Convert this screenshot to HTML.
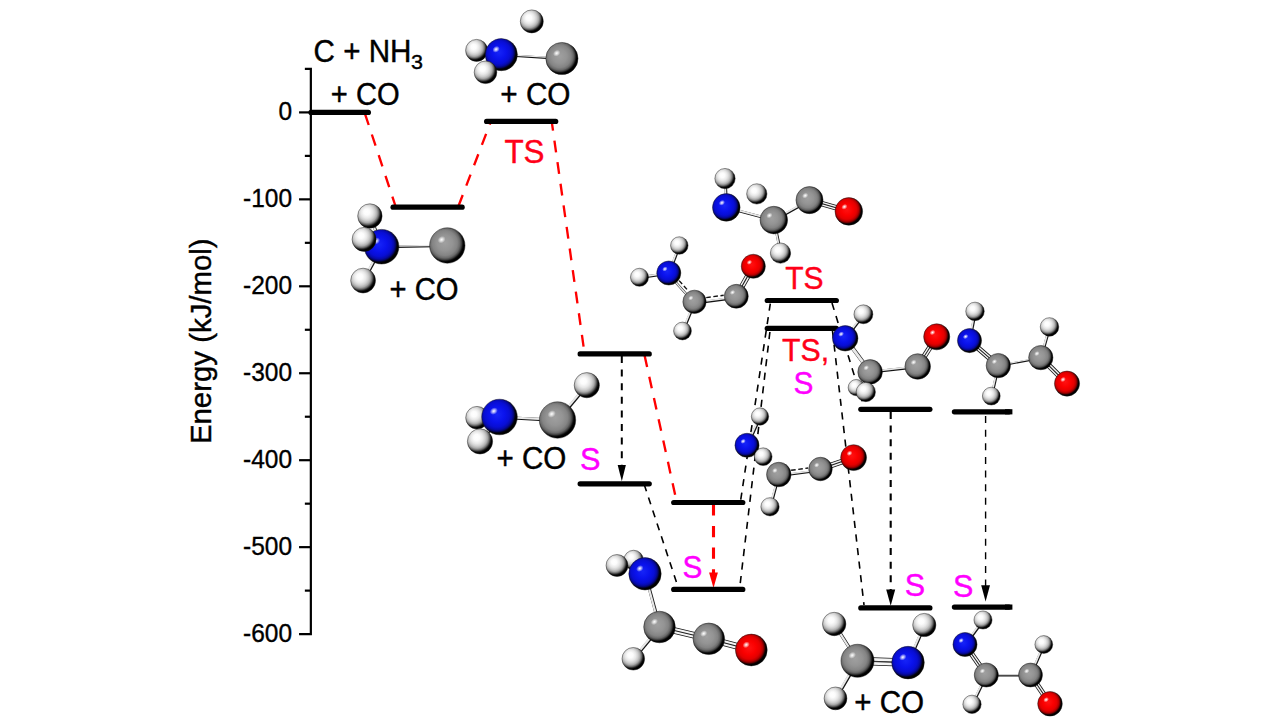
<!DOCTYPE html>
<html><head><meta charset="utf-8"><title>Energy diagram</title>
<style>html,body{margin:0;padding:0;background:#fff;overflow:hidden}svg{display:block}</style></head>
<body>
<svg width="1281" height="719" viewBox="0 0 1281 719">
<defs>
<radialGradient id="gH" cx="0.40" cy="0.38" r="0.60" fx="0.36" fy="0.33">
<stop offset="0" stop-color="#ffffff"/><stop offset="0.2" stop-color="#fcfcfc"/><stop offset="0.4" stop-color="#e8e8e8"/><stop offset="0.55" stop-color="#cecece"/><stop offset="0.68" stop-color="#aaaaaa"/><stop offset="0.79" stop-color="#6c6c6c"/><stop offset="0.88" stop-color="#222"/><stop offset="0.95" stop-color="#000"/></radialGradient>
<radialGradient id="gC" cx="0.43" cy="0.43" r="0.55">
<stop offset="0" stop-color="#a0a0a0"/><stop offset="0.4" stop-color="#949494"/><stop offset="0.64" stop-color="#848484"/><stop offset="0.77" stop-color="#6a6a6a"/><stop offset="0.86" stop-color="#404040"/><stop offset="0.92" stop-color="#141414"/><stop offset="0.97" stop-color="#000"/></radialGradient>
<radialGradient id="gN" cx="0.43" cy="0.43" r="0.55">
<stop offset="0" stop-color="#1624f8"/><stop offset="0.4" stop-color="#0a12ec"/><stop offset="0.64" stop-color="#080ed4"/><stop offset="0.77" stop-color="#060aaa"/><stop offset="0.86" stop-color="#04066a"/><stop offset="0.92" stop-color="#010220"/><stop offset="0.97" stop-color="#000"/></radialGradient>
<radialGradient id="gO" cx="0.43" cy="0.43" r="0.55">
<stop offset="0" stop-color="#ff1212"/><stop offset="0.4" stop-color="#fa0000"/><stop offset="0.64" stop-color="#e40000"/><stop offset="0.77" stop-color="#b80000"/><stop offset="0.86" stop-color="#720000"/><stop offset="0.92" stop-color="#240000"/><stop offset="0.97" stop-color="#000"/></radialGradient>
<radialGradient id="hl" cx="0.5" cy="0.5" r="0.5">
<stop offset="0" stop-color="#fff" stop-opacity="1"/><stop offset="0.4" stop-color="#fff" stop-opacity="0.65"/><stop offset="1" stop-color="#fff" stop-opacity="0"/></radialGradient>
</defs>
<rect width="1281" height="719" fill="#fff"/>
<g stroke="#000" stroke-width="2.2" fill="none" stroke-linecap="butt">
<path d="M304.85 68.85H310.85V634.10H299.05"/>
<path d="M299.05 112.40H310.85"/>
<path d="M299.05 199.35H310.85"/>
<path d="M299.05 286.30H310.85"/>
<path d="M299.05 373.25H310.85"/>
<path d="M299.05 460.20H310.85"/>
<path d="M299.05 547.15H310.85"/>
<path d="M304.85 155.88H310.85"/>
<path d="M304.85 242.83H310.85"/>
<path d="M304.85 329.77H310.85"/>
<path d="M304.85 416.73H310.85"/>
<path d="M304.85 503.68H310.85"/>
<path d="M304.85 590.62H310.85"/>
</g>
<text transform="translate(278.46 120.00) scale(1 1.045)" font-family="Liberation Sans, sans-serif" font-size="24.5" fill="#000" stroke="#000" stroke-width="0.35">0</text>
<text transform="translate(243.05 206.95) scale(1 1.045)" font-family="Liberation Sans, sans-serif" font-size="24.5" fill="#000" stroke="#000" stroke-width="0.35">-100</text>
<text transform="translate(243.05 293.90) scale(1 1.045)" font-family="Liberation Sans, sans-serif" font-size="24.5" fill="#000" stroke="#000" stroke-width="0.35">-200</text>
<text transform="translate(243.05 380.85) scale(1 1.045)" font-family="Liberation Sans, sans-serif" font-size="24.5" fill="#000" stroke="#000" stroke-width="0.35">-300</text>
<text transform="translate(243.05 467.80) scale(1 1.045)" font-family="Liberation Sans, sans-serif" font-size="24.5" fill="#000" stroke="#000" stroke-width="0.35">-400</text>
<text transform="translate(243.05 554.75) scale(1 1.045)" font-family="Liberation Sans, sans-serif" font-size="24.5" fill="#000" stroke="#000" stroke-width="0.35">-500</text>
<text transform="translate(243.05 641.70) scale(1 1.045)" font-family="Liberation Sans, sans-serif" font-size="24.5" fill="#000" stroke="#000" stroke-width="0.35">-600</text>
<text transform="translate(211.25 444.1) rotate(-90) scale(1 1.03)" font-family="Liberation Sans, sans-serif" font-size="29.4" fill="#000" stroke="#000" stroke-width="0.4">Energy (kJ/mol)</text>
<path d="M365 113.8L395.3 205.5" stroke="#ff0000" stroke-width="2.35" stroke-dasharray="11.8 10" stroke-dashoffset="0" fill="none"/>
<path d="M458.5 206L490.5 122.5" stroke="#ff0000" stroke-width="2.35" stroke-dasharray="11.8 10" stroke-dashoffset="0" fill="none"/>
<path d="M551.7 121.4L584.2 351" stroke="#ff0000" stroke-width="2.35" stroke-dasharray="11.8 10" stroke-dashoffset="2.4" fill="none"/>
<path d="M644.6 355.4L676.3 500" stroke="#ff0000" stroke-width="2.35" stroke-dasharray="11.8 10" stroke-dashoffset="0" fill="none"/>
<path d="M713.5 504.4L713.5 573" stroke="#ff0000" stroke-width="3.1" stroke-dasharray="11.2 10.4" stroke-dashoffset="0" fill="none"/>
<path d="M709.1 572.4L717.9 572.4L713.5 588Z" fill="#ff0000"/>
<path d="M644.2 484.5L676.4 582" stroke="#000" stroke-width="1.6" stroke-dasharray="7.2 6.45" stroke-dashoffset="0" fill="none"/>
<path d="M770.3 303.6L740.7 500" stroke="#000" stroke-width="1.6" stroke-dasharray="7.2 6.45" stroke-dashoffset="0" fill="none"/>
<path d="M769.9 332L739.8 587" stroke="#000" stroke-width="1.6" stroke-dasharray="7.2 6.45" stroke-dashoffset="0" fill="none"/>
<path d="M832 303L864 407" stroke="#000" stroke-width="1.6" stroke-dasharray="7.2 6.45" stroke-dashoffset="0" fill="none"/>
<path d="M832.5 331L864 605" stroke="#000" stroke-width="1.6" stroke-dasharray="7.2 6.45" stroke-dashoffset="0" fill="none"/>
<path d="M621.8 355.9L621.8 466.3" stroke="#000" stroke-width="2.0" stroke-dasharray="7 6.62" stroke-dashoffset="0" fill="none"/>
<path d="M617.6999999999999 464.90000000000003L625.9 464.90000000000003L621.8 481.3Z" fill="#000"/>
<path d="M890.7 411.9L890.7 590.8" stroke="#000" stroke-width="2.1" stroke-dasharray="7 6.62" stroke-dashoffset="0" fill="none"/>
<path d="M886.2 589.4L895.2 589.4L890.7 605.8Z" fill="#000"/>
<path d="M985.6 416.1L985.6 586.6" stroke="#000" stroke-width="1.4" stroke-dasharray="7 6.62" stroke-dashoffset="0" fill="none"/>
<path d="M981.2 585.2L990.0 585.2L985.6 601.6Z" fill="#000"/>
<path d="M311 112.4H368.4" stroke="#000" stroke-width="5.2" stroke-linecap="round"/>
<path d="M393.05 207.2H462.15" stroke="#000" stroke-width="5.2" stroke-linecap="round" fill="none"/>
<path d="M486.60 121.4H555.70" stroke="#000" stroke-width="5.2" stroke-linecap="round" fill="none"/>
<path d="M580.15 353.9H649.25" stroke="#000" stroke-width="5.2" stroke-linecap="round" fill="none"/>
<path d="M580.15 483.8H649.25" stroke="#000" stroke-width="5.2" stroke-linecap="round" fill="none"/>
<path d="M673.70 502.5H742.80" stroke="#000" stroke-width="5.2" stroke-linecap="round" fill="none"/>
<path d="M673.70 589.45H742.80" stroke="#000" stroke-width="5.2" stroke-linecap="round" fill="none"/>
<path d="M767.25 300.5H836.35" stroke="#000" stroke-width="5.2" stroke-linecap="round" fill="none"/>
<path d="M767.25 328.4H836.35" stroke="#000" stroke-width="5.2" stroke-linecap="round" fill="none"/>
<path d="M860.80 409.3H929.90" stroke="#000" stroke-width="5.2" stroke-linecap="round" fill="none"/>
<path d="M860.80 607.9H929.90" stroke="#000" stroke-width="5.2" stroke-linecap="round" fill="none"/>
<path d="M954.4 411.8H1009" stroke="#000" stroke-width="5.2" stroke-linecap="round"/><rect x="1005" y="409.2" width="7.4" height="5.2" fill="#000"/>
<path d="M954.4 607.1H1009" stroke="#000" stroke-width="5.2" stroke-linecap="round"/><rect x="1005" y="604.5" width="7.4" height="5.2" fill="#000"/>
<g>
<path d="M382.0 247.0L370.2 216.3" stroke="#141414" stroke-width="3.10" fill="none"/>
<path d="M381.4 246.4L369.7 215.8" stroke="#e8e8e8" stroke-width="2.20" fill="none"/>
<path d="M382.0 247.0L363.5 281.0" stroke="#141414" stroke-width="3.10" fill="none"/>
<path d="M381.4 246.4L362.9 280.4" stroke="#e8e8e8" stroke-width="2.20" fill="none"/>
<path d="M382.0 247.0L447.7 245.8" stroke="#141414" stroke-width="2.30" fill="none"/>
<path d="M381.4 246.4L447.1 245.2" stroke="#e8e8e8" stroke-width="1.40" fill="none"/>
<circle cx="369.9" cy="216.0" r="12.2" fill="url(#gH)" stroke="#151515" stroke-opacity="0.75" stroke-width="0.6"/>
<circle cx="381.6" cy="246.7" r="17.3" fill="url(#gN)" stroke="#151515" stroke-opacity="0.75" stroke-width="0.6"/>
<ellipse cx="376.1" cy="241.0" rx="4.2" ry="3.3" fill="url(#hl)" transform="rotate(-35 376.1 241.0)"/>
<circle cx="364.1" cy="239.4" r="12.0" fill="url(#gH)" stroke="#151515" stroke-opacity="0.75" stroke-width="0.6"/>
<circle cx="363.1" cy="280.6" r="12.399999999999999" fill="url(#gH)" stroke="#151515" stroke-opacity="0.75" stroke-width="0.6"/>
<circle cx="447.3" cy="245.5" r="17.7" fill="url(#gC)" stroke="#151515" stroke-opacity="0.75" stroke-width="0.6"/>
<ellipse cx="441.6" cy="239.7" rx="4.2" ry="3.4" fill="url(#hl)" transform="rotate(-35 441.6 239.7)"/>
</g>
<g>
<path d="M501.7 55.0L477.0 50.8" stroke="#141414" stroke-width="3.10" fill="none"/>
<path d="M501.1 54.4L476.4 50.1" stroke="#e8e8e8" stroke-width="2.20" fill="none"/>
<path d="M501.7 55.0L485.9 72.6" stroke="#141414" stroke-width="3.10" fill="none"/>
<path d="M501.1 54.4L485.3 72.0" stroke="#e8e8e8" stroke-width="2.20" fill="none"/>
<path d="M501.7 55.0L562.2 58.9" stroke="#141414" stroke-width="2.20" fill="none"/>
<path d="M501.1 54.4L561.7 58.2" stroke="#e8e8e8" stroke-width="1.30" fill="none"/>
<circle cx="531.8" cy="21.4" r="11.5" fill="url(#gH)" stroke="#151515" stroke-opacity="0.75" stroke-width="0.6"/>
<circle cx="476.6" cy="50.4" r="11.0" fill="url(#gH)" stroke="#151515" stroke-opacity="0.75" stroke-width="0.6"/>
<circle cx="501.3" cy="54.6" r="16.1" fill="url(#gN)" stroke="#151515" stroke-opacity="0.75" stroke-width="0.6"/>
<ellipse cx="496.1" cy="49.3" rx="3.9" ry="3.1" fill="url(#hl)" transform="rotate(-35 496.1 49.3)"/>
<circle cx="485.5" cy="72.3" r="11.299999999999999" fill="url(#gH)" stroke="#151515" stroke-opacity="0.75" stroke-width="0.6"/>
<circle cx="561.9" cy="58.5" r="16.1" fill="url(#gC)" stroke="#151515" stroke-opacity="0.75" stroke-width="0.6"/>
<ellipse cx="556.7" cy="53.2" rx="3.9" ry="3.1" fill="url(#hl)" transform="rotate(-35 556.7 53.2)"/>
</g>
<g>
<path d="M557.9 420.4L587.1 385.6" stroke="#141414" stroke-width="3.10" fill="none"/>
<path d="M557.3 419.8L586.6 384.9" stroke="#e8e8e8" stroke-width="2.20" fill="none"/>
<path d="M499.9 417.4L557.9 420.4" stroke="#141414" stroke-width="3.10" fill="none"/>
<path d="M499.3 416.8L557.3 419.8" stroke="#e8e8e8" stroke-width="2.20" fill="none"/>
<path d="M499.9 417.4L480.4 441.8" stroke="#141414" stroke-width="3.10" fill="none"/>
<path d="M499.3 416.8L479.8 441.1" stroke="#e8e8e8" stroke-width="2.20" fill="none"/>
<circle cx="477" cy="417.7" r="11.299999999999999" fill="url(#gH)" stroke="#151515" stroke-opacity="0.75" stroke-width="0.6"/>
<circle cx="499.5" cy="417" r="17.8" fill="url(#gN)" stroke="#151515" stroke-opacity="0.75" stroke-width="0.6"/>
<ellipse cx="493.8" cy="411.1" rx="4.3" ry="3.4" fill="url(#hl)" transform="rotate(-35 493.8 411.1)"/>
<circle cx="480" cy="441.4" r="12.6" fill="url(#gH)" stroke="#151515" stroke-opacity="0.75" stroke-width="0.6"/>
<circle cx="586.8" cy="385.2" r="12.6" fill="url(#gH)" stroke="#151515" stroke-opacity="0.75" stroke-width="0.6"/>
<circle cx="557.5" cy="420" r="18.2" fill="url(#gC)" stroke="#151515" stroke-opacity="0.75" stroke-width="0.6"/>
<ellipse cx="551.7" cy="414.0" rx="4.4" ry="3.5" fill="url(#hl)" transform="rotate(-35 551.7 414.0)"/>
</g>
<g>
<path d="M645.4 574.1L659.9 627.4" stroke="#141414" stroke-width="3.10" fill="none"/>
<path d="M644.8 573.5L659.3 626.8" stroke="#e8e8e8" stroke-width="2.20" fill="none"/>
<path d="M659.8 625.5L709.1 637.3" stroke="#141414" stroke-width="3.60" fill="none"/>
<path d="M659.2 628.5L708.5 640.3" stroke="#141414" stroke-width="3.60" fill="none"/>
<path d="M659.8 625.5L709.1 637.3" stroke="#f4f4f4" stroke-width="2.00" fill="none"/>
<path d="M659.2 628.5L708.5 640.3" stroke="#f4f4f4" stroke-width="2.00" fill="none"/>
<path d="M709.2 637.3L751.7 648.5" stroke="#141414" stroke-width="3.60" fill="none"/>
<path d="M708.4 640.3L750.9 651.5" stroke="#141414" stroke-width="3.60" fill="none"/>
<path d="M709.2 637.3L751.7 648.5" stroke="#f4f4f4" stroke-width="2.00" fill="none"/>
<path d="M708.4 640.3L750.9 651.5" stroke="#f4f4f4" stroke-width="2.00" fill="none"/>
<path d="M659.9 627.4L633.6 659.1" stroke="#141414" stroke-width="3.10" fill="none"/>
<path d="M659.3 626.8L633.1 658.5" stroke="#e8e8e8" stroke-width="2.20" fill="none"/>
<circle cx="633.6" cy="560" r="9.75" fill="url(#gH)" stroke="#151515" stroke-opacity="0.75" stroke-width="0.6"/>
<circle cx="617" cy="565.5" r="10.95" fill="url(#gH)" stroke="#151515" stroke-opacity="0.75" stroke-width="0.6"/>
<circle cx="645" cy="573.8" r="16.2" fill="url(#gN)" stroke="#151515" stroke-opacity="0.75" stroke-width="0.6"/>
<ellipse cx="639.8" cy="568.5" rx="3.9" ry="3.1" fill="url(#hl)" transform="rotate(-35 639.8 568.5)"/>
<circle cx="633.3" cy="658.8" r="11.299999999999999" fill="url(#gH)" stroke="#151515" stroke-opacity="0.75" stroke-width="0.6"/>
<circle cx="659.5" cy="627" r="15.8" fill="url(#gC)" stroke="#151515" stroke-opacity="0.75" stroke-width="0.6"/>
<ellipse cx="654.4" cy="621.8" rx="3.8" ry="3.0" fill="url(#hl)" transform="rotate(-35 654.4 621.8)"/>
<circle cx="708.8" cy="638.8" r="15.8" fill="url(#gC)" stroke="#151515" stroke-opacity="0.75" stroke-width="0.6"/>
<ellipse cx="703.7" cy="633.6" rx="3.8" ry="3.0" fill="url(#hl)" transform="rotate(-35 703.7 633.6)"/>
<circle cx="751.3" cy="650" r="15.9" fill="url(#gO)" stroke="#151515" stroke-opacity="0.75" stroke-width="0.6"/>
<ellipse cx="746.2" cy="644.8" rx="3.8" ry="3.1" fill="url(#hl)" transform="rotate(-35 746.2 644.8)"/>
</g>
<g>
<path d="M747.4 445.7L760.4 416.9" stroke="#141414" stroke-width="2.70" fill="none"/>
<path d="M746.8 445.1L759.8 416.2" stroke="#e8e8e8" stroke-width="1.80" fill="none"/>
<path d="M779.2 475.9L820.9 470.4" stroke="#141414" stroke-width="2.40" fill="none"/>
<path d="M778.7 475.3L820.4 469.8" stroke="#e8e8e8" stroke-width="1.50" fill="none"/>
<path d="M791.1 470.3L808.1 468.0" stroke="#111" stroke-width="1.4" stroke-dasharray="4.6 2.6" fill="none"/>
<path d="M820.1 467.8L853.2 456.4" stroke="#141414" stroke-width="3.05" fill="none"/>
<path d="M820.9 470.2L854.0 458.8" stroke="#141414" stroke-width="3.05" fill="none"/>
<path d="M820.1 467.8L853.2 456.4" stroke="#f4f4f4" stroke-width="1.45" fill="none"/>
<path d="M820.9 470.2L854.0 458.8" stroke="#f4f4f4" stroke-width="1.45" fill="none"/>
<path d="M779.1 474.9L770.4 507.2" stroke="#141414" stroke-width="2.70" fill="none"/>
<path d="M778.6 474.2L769.8 506.6" stroke="#e8e8e8" stroke-width="1.80" fill="none"/>
<circle cx="760" cy="416.5" r="8.65" fill="url(#gH)" stroke="#151515" stroke-opacity="0.75" stroke-width="0.6"/>
<circle cx="747" cy="445.3" r="12.05" fill="url(#gN)" stroke="#151515" stroke-opacity="0.75" stroke-width="0.6"/>
<ellipse cx="743.1" cy="441.3" rx="2.9" ry="2.3" fill="url(#hl)" transform="rotate(-35 743.1 441.3)"/>
<circle cx="763.2" cy="456.7" r="8.85" fill="url(#gH)" stroke="#151515" stroke-opacity="0.75" stroke-width="0.6"/>
<circle cx="770" cy="506.8" r="9.15" fill="url(#gH)" stroke="#151515" stroke-opacity="0.75" stroke-width="0.6"/>
<circle cx="778.8" cy="474.5" r="12.25" fill="url(#gC)" stroke="#151515" stroke-opacity="0.75" stroke-width="0.6"/>
<ellipse cx="774.9" cy="470.5" rx="2.9" ry="2.4" fill="url(#hl)" transform="rotate(-35 774.9 470.5)"/>
<circle cx="820.5" cy="469" r="11.75" fill="url(#gC)" stroke="#151515" stroke-opacity="0.75" stroke-width="0.6"/>
<ellipse cx="816.7" cy="465.1" rx="2.8" ry="2.3" fill="url(#hl)" transform="rotate(-35 816.7 465.1)"/>
<circle cx="853.6" cy="457.6" r="12.950000000000001" fill="url(#gO)" stroke="#151515" stroke-opacity="0.75" stroke-width="0.6"/>
<ellipse cx="849.5" cy="453.3" rx="3.1" ry="2.5" fill="url(#hl)" transform="rotate(-35 849.5 453.3)"/>
</g>
<g>
<path d="M845.6 338.7L863.8 314.7" stroke="#141414" stroke-width="2.70" fill="none"/>
<path d="M845.0 338.1L863.2 314.1" stroke="#e8e8e8" stroke-width="1.80" fill="none"/>
<path d="M845.6 338.7L870.5 372.2" stroke="#141414" stroke-width="3.90" fill="none"/>
<path d="M845.0 338.1L869.9 371.6" stroke="#e8e8e8" stroke-width="3.00" fill="none"/>
<path d="M870.5 372.2L918.1 366.9" stroke="#141414" stroke-width="2.70" fill="none"/>
<path d="M869.9 371.6L917.5 366.2" stroke="#e8e8e8" stroke-width="1.80" fill="none"/>
<path d="M916.7 365.8L935.7 336.1" stroke="#141414" stroke-width="3.05" fill="none"/>
<path d="M918.7 367.2L937.7 337.5" stroke="#141414" stroke-width="3.05" fill="none"/>
<path d="M916.7 365.8L935.7 336.1" stroke="#f4f4f4" stroke-width="1.45" fill="none"/>
<path d="M918.7 367.2L937.7 337.5" stroke="#f4f4f4" stroke-width="1.45" fill="none"/>
<path d="M870.5 372.2L866.1 392.4" stroke="#141414" stroke-width="2.70" fill="none"/>
<path d="M869.9 371.6L865.6 391.8" stroke="#e8e8e8" stroke-width="1.80" fill="none"/>
<circle cx="863.4" cy="314.3" r="9.450000000000001" fill="url(#gH)" stroke="#151515" stroke-opacity="0.75" stroke-width="0.6"/>
<circle cx="856.3" cy="387.6" r="8.15" fill="url(#gH)" stroke="#151515" stroke-opacity="0.75" stroke-width="0.6"/>
<circle cx="845.2" cy="338.3" r="12.75" fill="url(#gN)" stroke="#151515" stroke-opacity="0.75" stroke-width="0.6"/>
<ellipse cx="841.1" cy="334.1" rx="3.1" ry="2.4" fill="url(#hl)" transform="rotate(-35 841.1 334.1)"/>
<circle cx="870.1" cy="371.9" r="12.3" fill="url(#gC)" stroke="#151515" stroke-opacity="0.75" stroke-width="0.6"/>
<ellipse cx="866.2" cy="367.8" rx="3.0" ry="2.4" fill="url(#hl)" transform="rotate(-35 866.2 367.8)"/>
<circle cx="865.8" cy="392" r="9.65" fill="url(#gH)" stroke="#151515" stroke-opacity="0.75" stroke-width="0.6"/>
<circle cx="917.7" cy="366.5" r="12.8" fill="url(#gC)" stroke="#151515" stroke-opacity="0.75" stroke-width="0.6"/>
<ellipse cx="913.6" cy="362.3" rx="3.1" ry="2.5" fill="url(#hl)" transform="rotate(-35 913.6 362.3)"/>
<circle cx="936.7" cy="336.8" r="13.05" fill="url(#gO)" stroke="#151515" stroke-opacity="0.75" stroke-width="0.6"/>
<ellipse cx="932.5" cy="332.5" rx="3.1" ry="2.5" fill="url(#hl)" transform="rotate(-35 932.5 332.5)"/>
</g>
<g>
<path d="M969.9 341.0L975.4 311.8" stroke="#141414" stroke-width="2.70" fill="none"/>
<path d="M969.3 340.4L974.8 311.1" stroke="#e8e8e8" stroke-width="1.80" fill="none"/>
<path d="M970.3 339.7L999.1 364.7" stroke="#141414" stroke-width="3.05" fill="none"/>
<path d="M968.7 341.5L997.5 366.5" stroke="#141414" stroke-width="3.05" fill="none"/>
<path d="M970.3 339.7L999.1 364.7" stroke="#f4f4f4" stroke-width="1.45" fill="none"/>
<path d="M968.7 341.5L997.5 366.5" stroke="#f4f4f4" stroke-width="1.45" fill="none"/>
<path d="M998.6 366.0L1041.1 358.0" stroke="#141414" stroke-width="2.00" fill="none"/>
<path d="M998.1 365.4L1040.6 357.4" stroke="#e8e8e8" stroke-width="1.10" fill="none"/>
<path d="M1041.1 358.0L1049.8 327.2" stroke="#141414" stroke-width="2.70" fill="none"/>
<path d="M1040.6 357.4L1049.3 326.6" stroke="#e8e8e8" stroke-width="1.80" fill="none"/>
<path d="M1041.7 356.7L1067.9 382.7" stroke="#141414" stroke-width="3.05" fill="none"/>
<path d="M1039.9 358.5L1066.1 384.5" stroke="#141414" stroke-width="3.05" fill="none"/>
<path d="M1041.7 356.7L1067.9 382.7" stroke="#f4f4f4" stroke-width="1.45" fill="none"/>
<path d="M1039.9 358.5L1066.1 384.5" stroke="#f4f4f4" stroke-width="1.45" fill="none"/>
<path d="M998.6 366.0L991.6 396.5" stroke="#141414" stroke-width="2.70" fill="none"/>
<path d="M998.1 365.4L991.1 395.9" stroke="#e8e8e8" stroke-width="1.80" fill="none"/>
<circle cx="975" cy="311.4" r="9.25" fill="url(#gH)" stroke="#151515" stroke-opacity="0.75" stroke-width="0.6"/>
<circle cx="969.5" cy="340.6" r="12.05" fill="url(#gN)" stroke="#151515" stroke-opacity="0.75" stroke-width="0.6"/>
<ellipse cx="965.6" cy="336.6" rx="2.9" ry="2.3" fill="url(#hl)" transform="rotate(-35 965.6 336.6)"/>
<circle cx="991.3" cy="396.1" r="8.9" fill="url(#gH)" stroke="#151515" stroke-opacity="0.75" stroke-width="0.6"/>
<circle cx="998.3" cy="365.6" r="12.15" fill="url(#gC)" stroke="#151515" stroke-opacity="0.75" stroke-width="0.6"/>
<ellipse cx="994.4" cy="361.6" rx="2.9" ry="2.3" fill="url(#hl)" transform="rotate(-35 994.4 361.6)"/>
<circle cx="1049.5" cy="326.9" r="9.25" fill="url(#gH)" stroke="#151515" stroke-opacity="0.75" stroke-width="0.6"/>
<circle cx="1040.8" cy="357.6" r="12.15" fill="url(#gC)" stroke="#151515" stroke-opacity="0.75" stroke-width="0.6"/>
<ellipse cx="1036.9" cy="353.6" rx="2.9" ry="2.3" fill="url(#hl)" transform="rotate(-35 1036.9 353.6)"/>
<circle cx="1067" cy="383.6" r="12.55" fill="url(#gO)" stroke="#151515" stroke-opacity="0.75" stroke-width="0.6"/>
<ellipse cx="1063.0" cy="379.5" rx="3.0" ry="2.4" fill="url(#hl)" transform="rotate(-35 1063.0 379.5)"/>
</g>
<g>
<path d="M857.9 661.1L834.6 624.4" stroke="#141414" stroke-width="3.10" fill="none"/>
<path d="M857.3 660.5L834.0 623.8" stroke="#e8e8e8" stroke-width="2.20" fill="none"/>
<path d="M857.9 661.1L835.9 698.8" stroke="#141414" stroke-width="3.10" fill="none"/>
<path d="M857.3 660.5L835.3 698.1" stroke="#e8e8e8" stroke-width="2.20" fill="none"/>
<path d="M857.6 658.8L908.1 660.6" stroke="#141414" stroke-width="4.30" fill="none"/>
<path d="M857.4 662.8L907.9 664.6" stroke="#141414" stroke-width="4.30" fill="none"/>
<path d="M857.6 658.8L908.1 660.6" stroke="#f4f4f4" stroke-width="2.70" fill="none"/>
<path d="M857.4 662.8L907.9 664.6" stroke="#f4f4f4" stroke-width="2.70" fill="none"/>
<path d="M908.4 663.0L924.6 625.4" stroke="#141414" stroke-width="3.10" fill="none"/>
<path d="M907.8 662.4L924.1 624.8" stroke="#e8e8e8" stroke-width="2.20" fill="none"/>
<circle cx="834.2" cy="624" r="11.7" fill="url(#gH)" stroke="#151515" stroke-opacity="0.75" stroke-width="0.6"/>
<circle cx="835.5" cy="698.4" r="11.399999999999999" fill="url(#gH)" stroke="#151515" stroke-opacity="0.75" stroke-width="0.6"/>
<circle cx="924.3" cy="625" r="11.6" fill="url(#gH)" stroke="#151515" stroke-opacity="0.75" stroke-width="0.6"/>
<circle cx="857.5" cy="660.8" r="16.55" fill="url(#gC)" stroke="#151515" stroke-opacity="0.75" stroke-width="0.6"/>
<ellipse cx="852.2" cy="655.3" rx="4.0" ry="3.2" fill="url(#hl)" transform="rotate(-35 852.2 655.3)"/>
<circle cx="908" cy="662.6" r="16.3" fill="url(#gN)" stroke="#151515" stroke-opacity="0.75" stroke-width="0.6"/>
<ellipse cx="902.8" cy="657.2" rx="3.9" ry="3.1" fill="url(#hl)" transform="rotate(-35 902.8 657.2)"/>
</g>
<g>
<path d="M965.4 644.9L983.4 620.4" stroke="#141414" stroke-width="2.70" fill="none"/>
<path d="M964.8 644.2L982.8 619.8" stroke="#e8e8e8" stroke-width="1.80" fill="none"/>
<path d="M966.0 643.8L987.3 674.3" stroke="#141414" stroke-width="3.05" fill="none"/>
<path d="M964.0 645.2L985.3 675.7" stroke="#141414" stroke-width="3.05" fill="none"/>
<path d="M966.0 643.8L987.3 674.3" stroke="#f4f4f4" stroke-width="1.45" fill="none"/>
<path d="M964.0 645.2L985.3 675.7" stroke="#f4f4f4" stroke-width="1.45" fill="none"/>
<path d="M986.6 675.4L1030.8 675.4" stroke="#141414" stroke-width="2.00" fill="none"/>
<path d="M986.1 674.8L1030.3 674.8" stroke="#e8e8e8" stroke-width="1.10" fill="none"/>
<path d="M1030.8 675.4L1044.1 644.9" stroke="#141414" stroke-width="2.70" fill="none"/>
<path d="M1030.3 674.8L1043.6 644.2" stroke="#e8e8e8" stroke-width="1.80" fill="none"/>
<path d="M1031.5 674.3L1051.0 703.1" stroke="#141414" stroke-width="3.05" fill="none"/>
<path d="M1029.5 675.7L1049.0 704.5" stroke="#141414" stroke-width="3.05" fill="none"/>
<path d="M1031.5 674.3L1051.0 703.1" stroke="#f4f4f4" stroke-width="1.45" fill="none"/>
<path d="M1029.5 675.7L1049.0 704.5" stroke="#f4f4f4" stroke-width="1.45" fill="none"/>
<path d="M986.6 675.4L972.4 704.6" stroke="#141414" stroke-width="2.70" fill="none"/>
<path d="M986.1 674.8L971.8 704.0" stroke="#e8e8e8" stroke-width="1.80" fill="none"/>
<circle cx="983" cy="620" r="9.05" fill="url(#gH)" stroke="#151515" stroke-opacity="0.75" stroke-width="0.6"/>
<circle cx="965" cy="644.5" r="12.05" fill="url(#gN)" stroke="#151515" stroke-opacity="0.75" stroke-width="0.6"/>
<ellipse cx="961.1" cy="640.5" rx="2.9" ry="2.3" fill="url(#hl)" transform="rotate(-35 961.1 640.5)"/>
<circle cx="972" cy="704.3" r="9.15" fill="url(#gH)" stroke="#151515" stroke-opacity="0.75" stroke-width="0.6"/>
<circle cx="986.3" cy="675" r="12.05" fill="url(#gC)" stroke="#151515" stroke-opacity="0.75" stroke-width="0.6"/>
<ellipse cx="982.4" cy="671.0" rx="2.9" ry="2.3" fill="url(#hl)" transform="rotate(-35 982.4 671.0)"/>
<circle cx="1043.8" cy="644.5" r="8.9" fill="url(#gH)" stroke="#151515" stroke-opacity="0.75" stroke-width="0.6"/>
<circle cx="1030.5" cy="675" r="11.950000000000001" fill="url(#gC)" stroke="#151515" stroke-opacity="0.75" stroke-width="0.6"/>
<ellipse cx="1026.7" cy="671.1" rx="2.9" ry="2.3" fill="url(#hl)" transform="rotate(-35 1026.7 671.1)"/>
<circle cx="1050" cy="703.8" r="12.3" fill="url(#gO)" stroke="#151515" stroke-opacity="0.75" stroke-width="0.6"/>
<ellipse cx="1046.1" cy="699.7" rx="3.0" ry="2.4" fill="url(#hl)" transform="rotate(-35 1046.1 699.7)"/>
</g>
<g>
<path d="M726.6 207.8L725.4 178.9" stroke="#141414" stroke-width="2.70" fill="none"/>
<path d="M726.1 207.2L724.8 178.3" stroke="#e8e8e8" stroke-width="1.80" fill="none"/>
<path d="M726.6 207.8L774.1 220.4" stroke="#141414" stroke-width="2.70" fill="none"/>
<path d="M726.1 207.2L773.6 219.8" stroke="#e8e8e8" stroke-width="1.80" fill="none"/>
<path d="M774.1 220.4L809.9 200.4" stroke="#141414" stroke-width="2.70" fill="none"/>
<path d="M773.6 219.8L809.3 199.8" stroke="#e8e8e8" stroke-width="1.80" fill="none"/>
<path d="M809.8 198.9L849.1 210.2" stroke="#141414" stroke-width="3.05" fill="none"/>
<path d="M809.2 201.3L848.5 212.6" stroke="#141414" stroke-width="3.05" fill="none"/>
<path d="M809.8 198.9L849.1 210.2" stroke="#f4f4f4" stroke-width="1.45" fill="none"/>
<path d="M809.2 201.3L848.5 212.6" stroke="#f4f4f4" stroke-width="1.45" fill="none"/>
<path d="M774.1 220.4L780.9 253.4" stroke="#141414" stroke-width="2.70" fill="none"/>
<path d="M773.6 219.8L780.3 252.8" stroke="#e8e8e8" stroke-width="1.80" fill="none"/>
<circle cx="725" cy="178.6" r="10.15" fill="url(#gH)" stroke="#151515" stroke-opacity="0.75" stroke-width="0.6"/>
<circle cx="756.8" cy="193.9" r="10.15" fill="url(#gH)" stroke="#151515" stroke-opacity="0.75" stroke-width="0.6"/>
<circle cx="726.3" cy="207.4" r="13.8" fill="url(#gN)" stroke="#151515" stroke-opacity="0.75" stroke-width="0.6"/>
<ellipse cx="721.9" cy="202.8" rx="3.3" ry="2.6" fill="url(#hl)" transform="rotate(-35 721.9 202.8)"/>
<circle cx="780.5" cy="253.1" r="10.15" fill="url(#gH)" stroke="#151515" stroke-opacity="0.75" stroke-width="0.6"/>
<circle cx="773.8" cy="220.1" r="13.8" fill="url(#gC)" stroke="#151515" stroke-opacity="0.75" stroke-width="0.6"/>
<ellipse cx="769.4" cy="215.5" rx="3.3" ry="2.6" fill="url(#hl)" transform="rotate(-35 769.4 215.5)"/>
<circle cx="809.5" cy="200.1" r="13.55" fill="url(#gC)" stroke="#151515" stroke-opacity="0.75" stroke-width="0.6"/>
<ellipse cx="805.2" cy="195.6" rx="3.3" ry="2.6" fill="url(#hl)" transform="rotate(-35 805.2 195.6)"/>
<circle cx="848.8" cy="211.4" r="13.8" fill="url(#gO)" stroke="#151515" stroke-opacity="0.75" stroke-width="0.6"/>
<ellipse cx="844.4" cy="206.8" rx="3.3" ry="2.6" fill="url(#hl)" transform="rotate(-35 844.4 206.8)"/>
</g>
<g>
<path d="M669.1 273.4L679.6 245.8" stroke="#141414" stroke-width="2.70" fill="none"/>
<path d="M668.6 272.8L679.1 245.2" stroke="#e8e8e8" stroke-width="1.80" fill="none"/>
<path d="M669.1 273.4L639.9 277.7" stroke="#141414" stroke-width="2.70" fill="none"/>
<path d="M668.6 272.8L639.3 277.1" stroke="#e8e8e8" stroke-width="1.80" fill="none"/>
<path d="M668.3 274.0L694.0 302.8" stroke="#141414" stroke-width="2.40" fill="none"/>
<path d="M667.8 273.5L693.5 302.3" stroke="#e8e8e8" stroke-width="1.50" fill="none"/>
<path d="M679.1 280.6L688.4 291.0" stroke="#111" stroke-width="1.4" stroke-dasharray="4.6 2.6" fill="none"/>
<path d="M694.9 303.2L736.7 297.7" stroke="#141414" stroke-width="2.40" fill="none"/>
<path d="M694.4 302.6L736.2 297.1" stroke="#e8e8e8" stroke-width="1.50" fill="none"/>
<path d="M706.2 297.6L723.7 295.3" stroke="#111" stroke-width="1.4" stroke-dasharray="4.6 2.6" fill="none"/>
<path d="M735.2 295.7L752.2 265.7" stroke="#141414" stroke-width="3.05" fill="none"/>
<path d="M737.4 296.9L754.4 266.9" stroke="#141414" stroke-width="3.05" fill="none"/>
<path d="M735.2 295.7L752.2 265.7" stroke="#f4f4f4" stroke-width="1.45" fill="none"/>
<path d="M737.4 296.9L754.4 266.9" stroke="#f4f4f4" stroke-width="1.45" fill="none"/>
<path d="M694.9 302.2L682.9 331.4" stroke="#141414" stroke-width="2.70" fill="none"/>
<path d="M694.3 301.6L682.3 330.8" stroke="#e8e8e8" stroke-width="1.80" fill="none"/>
<circle cx="679.3" cy="245.5" r="8.75" fill="url(#gH)" stroke="#151515" stroke-opacity="0.75" stroke-width="0.6"/>
<circle cx="639.5" cy="277.3" r="9.05" fill="url(#gH)" stroke="#151515" stroke-opacity="0.75" stroke-width="0.6"/>
<circle cx="668.8" cy="273.0" r="12.05" fill="url(#gN)" stroke="#151515" stroke-opacity="0.75" stroke-width="0.6"/>
<ellipse cx="664.9" cy="269.0" rx="2.9" ry="2.3" fill="url(#hl)" transform="rotate(-35 664.9 269.0)"/>
<circle cx="682.5" cy="331.0" r="8.9" fill="url(#gH)" stroke="#151515" stroke-opacity="0.75" stroke-width="0.6"/>
<circle cx="694.5" cy="301.8" r="11.65" fill="url(#gC)" stroke="#151515" stroke-opacity="0.75" stroke-width="0.6"/>
<ellipse cx="690.8" cy="298.0" rx="2.8" ry="2.2" fill="url(#hl)" transform="rotate(-35 690.8 298.0)"/>
<circle cx="736.3" cy="296.3" r="11.950000000000001" fill="url(#gC)" stroke="#151515" stroke-opacity="0.75" stroke-width="0.6"/>
<ellipse cx="732.5" cy="292.4" rx="2.9" ry="2.3" fill="url(#hl)" transform="rotate(-35 732.5 292.4)"/>
<circle cx="753.3" cy="266.3" r="12.05" fill="url(#gO)" stroke="#151515" stroke-opacity="0.75" stroke-width="0.6"/>
<ellipse cx="749.4" cy="262.3" rx="2.9" ry="2.3" fill="url(#hl)" transform="rotate(-35 749.4 262.3)"/>
</g>
<text transform="translate(313.60 61.70) scale(1 1.042)" font-family="Liberation Sans, sans-serif" font-size="29.59" fill="#000" stroke="#000" stroke-width="0.4" stroke-linejoin="round">C + NH</text>
<text transform="translate(410.88 69.30) scale(1 0.972)" font-family="Liberation Sans, sans-serif" font-size="21.51" fill="#000" stroke="#000" stroke-width="0.4" stroke-linejoin="round">3</text>
<text transform="translate(330.78 104.79) scale(1 1.076)" font-family="Liberation Sans, sans-serif" font-size="29.14" fill="#000" stroke="#000" stroke-width="0.4" stroke-linejoin="round">+ CO</text>
<text transform="translate(500.25 105.29) scale(1 1.068)" font-family="Liberation Sans, sans-serif" font-size="29.76" fill="#000" stroke="#000" stroke-width="0.4" stroke-linejoin="round">+ CO</text>
<text transform="translate(389.47 300.19) scale(1 1.078)" font-family="Liberation Sans, sans-serif" font-size="29.23" fill="#000" stroke="#000" stroke-width="0.4" stroke-linejoin="round">+ CO</text>
<text transform="translate(496.45 468.99) scale(1 1.063)" font-family="Liberation Sans, sans-serif" font-size="29.62" fill="#000" stroke="#000" stroke-width="0.4" stroke-linejoin="round">+ CO</text>
<text transform="translate(854.25 713.09) scale(1 1.074)" font-family="Liberation Sans, sans-serif" font-size="29.60" fill="#000" stroke="#000" stroke-width="0.4" stroke-linejoin="round">+ CO</text>
<text transform="translate(504.39 162.60) scale(1 1.046)" font-family="Liberation Sans, sans-serif" font-size="31.42" fill="#ff0018" stroke="#ff0018" stroke-width="0.4" stroke-linejoin="round">TS</text>
<text transform="translate(785.13 288.85) scale(1 1.058)" font-family="Liberation Sans, sans-serif" font-size="30.01" fill="#ff0018" stroke="#ff0018" stroke-width="0.4" stroke-linejoin="round">TS</text>
<text transform="translate(782.12 360.50) scale(1 1.042)" font-family="Liberation Sans, sans-serif" font-size="30.26" fill="#ff0018" stroke="#ff0018" stroke-width="0.4" stroke-linejoin="round">TS</text>
<text transform="translate(820.79 360.50) scale(1 1.042)" font-family="Liberation Sans, sans-serif" font-size="30.26" fill="#ff0018" stroke="#ff0018" stroke-width="0.4">,</text>
<text transform="translate(580.10 469.99) scale(1 1.029)" font-family="Liberation Sans, sans-serif" font-size="30.75" fill="#ff00ff" stroke="#ff00ff" stroke-width="0.4" stroke-linejoin="round">S</text>
<text transform="translate(793.54 393.59) scale(1 1.078)" font-family="Liberation Sans, sans-serif" font-size="29.88" fill="#ff00ff" stroke="#ff00ff" stroke-width="0.4" stroke-linejoin="round">S</text>
<text transform="translate(682.50 578.19) scale(1 1.053)" font-family="Liberation Sans, sans-serif" font-size="29.79" fill="#ff00ff" stroke="#ff00ff" stroke-width="0.4" stroke-linejoin="round">S</text>
<text transform="translate(904.81 595.90) scale(1 1.016)" font-family="Liberation Sans, sans-serif" font-size="30.57" fill="#ff00ff" stroke="#ff00ff" stroke-width="0.4" stroke-linejoin="round">S</text>
<text transform="translate(953.11 597.49) scale(1 1.035)" font-family="Liberation Sans, sans-serif" font-size="30.57" fill="#ff00ff" stroke="#ff00ff" stroke-width="0.4" stroke-linejoin="round">S</text>
</svg>
</body></html>
